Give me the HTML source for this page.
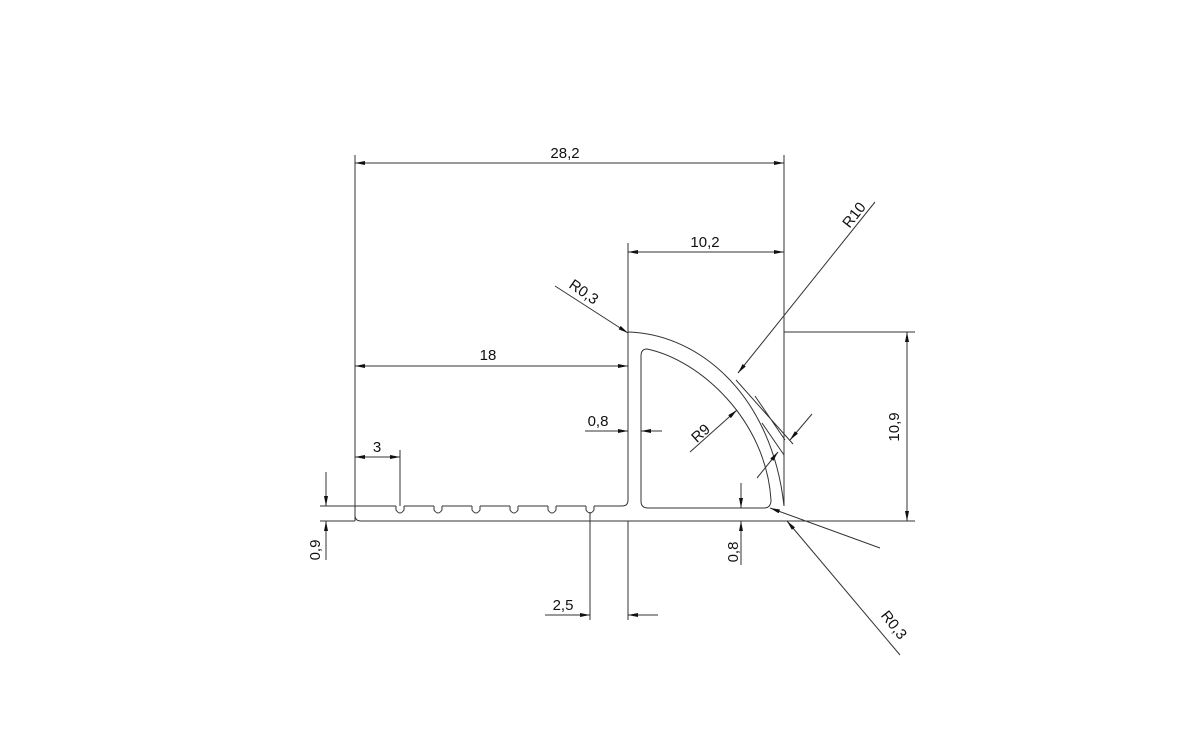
<!DOCTYPE html>
<html><head><style>body{margin:0;background:#fff}svg{display:block}text{font-family:"Liberation Sans",sans-serif;font-size:15px;fill:#111}</style></head>
<body>
<svg width="1200" height="750" viewBox="0 0 1200 750">
<defs><marker id="a" viewBox="0 0 10 4" refX="10" refY="2" markerWidth="10" markerHeight="4" orient="auto-start-reverse" markerUnits="userSpaceOnUse"><path d="M0,0L10,2L0,4z" fill="#111"/></marker></defs>
<g stroke="#333" stroke-width="1" fill="none">
<!-- profile -->
<path d="M355,506 L396,506 M404,506 L434,506 M442,506 L472,506 M480,506 L510,506 M518,506 L548,506 M556,506 L586,506 M594,506 L622,506 Q628,506 628,500 L628,332 C700,334 772,396 784,506"/>
<path d="M396,506 L396,510 Q400,516 404,510 L404,506 M434,506 L434,510 Q438,516 442,510 L442,506 M472,506 L472,510 Q476,516 480,510 L480,506 M510,506 L510,510 Q514,516 518,510 L518,506 M548,506 L548,510 Q552,516 556,510 L556,506 M586,506 L586,510 Q590,516 594,510 L594,506"/>
<path d="M355,506 L355,515 Q355,521 361,521 L784,521"/>
<path d="M647,349 C700,360 766,420 771,500 Q771,508 764,508 L648,508 Q641,508 641,501 L641,356 Q641,349 647,349z"/>
<!-- extension lines -->
<path d="M355,155 V521 M784,155 V506 M628,243 V332 M628,521 V620 M320,506 H355 M320,521 H355 M784,521 H915 M784,332 H915 M400,450 V506 M590,512 V620"/>
<!-- dims -->
<path d="M355,163 H784" marker-start="url(#a)" marker-end="url(#a)"/>
<path d="M628,252 H784" marker-start="url(#a)" marker-end="url(#a)"/>
<path d="M355,366 H628" marker-start="url(#a)" marker-end="url(#a)"/>
<path d="M355,457 H400" marker-start="url(#a)" marker-end="url(#a)"/>
<path d="M907,332 V521" marker-start="url(#a)" marker-end="url(#a)"/>
<path d="M326,472 V506" marker-end="url(#a)"/>
<path d="M326,560 V521" marker-end="url(#a)"/>
<path d="M741,483 V508" marker-end="url(#a)"/>
<path d="M741,565 V521" marker-end="url(#a)"/>
<path d="M585,431 H628" marker-end="url(#a)"/>
<path d="M662,431 H641" marker-end="url(#a)"/>
<path d="M545,615 H590" marker-end="url(#a)"/>
<path d="M658,615 H628" marker-end="url(#a)"/>
<path d="M875,202 L738,373" marker-end="url(#a)"/>
<path d="M555,286 L628,333" marker-end="url(#a)"/>
<path d="M690,452 L737,410" marker-end="url(#a)"/>
<path d="M900,655 L787,521" marker-end="url(#a)"/>
<path d="M880,548 L770,508" marker-end="url(#a)"/>
<path d="M736,380 L793,444 M762,423 L784,455 M755,396 L785,440"/>
<path d="M812,414 L790,440" marker-end="url(#a)"/>
<path d="M757,478 L778,452" marker-end="url(#a)"/>
</g>
<text x="565" y="158" text-anchor="middle">28,2</text>
<text x="705" y="247" text-anchor="middle">10,2</text>
<text x="488" y="360" text-anchor="middle">18</text>
<text x="377" y="452" text-anchor="middle">3</text>
<text x="598" y="426" text-anchor="middle">0,8</text>
<text x="563" y="610" text-anchor="middle">2,5</text>
<text transform="translate(320,550) rotate(-90)" text-anchor="middle">0,9</text>
<text transform="translate(738,552) rotate(-90)" text-anchor="middle">0,8</text>
<text transform="translate(899,427) rotate(-90)" text-anchor="middle">10,9</text>
<text transform="translate(858,218) rotate(-52)" text-anchor="middle">R10</text>
<text transform="translate(581,296) rotate(35)" text-anchor="middle">R0,3</text>
<text transform="translate(704,437) rotate(-42)" text-anchor="middle">R9</text>
<text transform="translate(890,628) rotate(52)" text-anchor="middle">R0,3</text>
</svg>
</body></html>
